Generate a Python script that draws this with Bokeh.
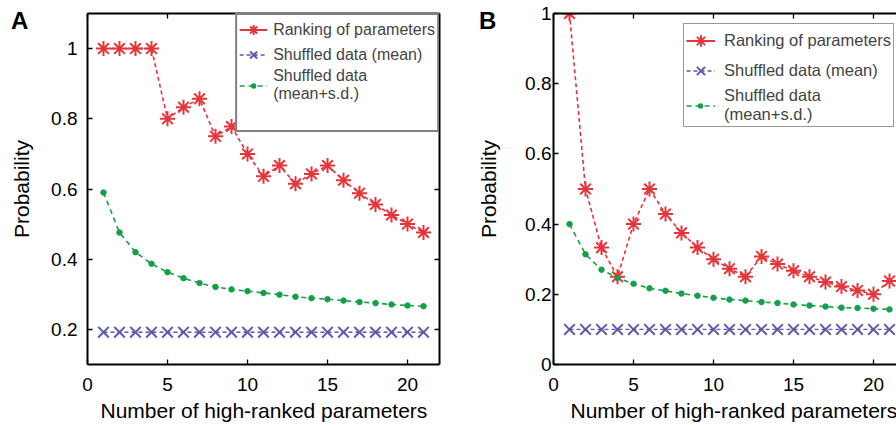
from bokeh.plotting import figure
from bokeh.models import (LinearAxis, FixedTicker, Legend, LegendItem, Title, Div,
                          ColumnDataSource, Range1d)
from bokeh.layouts import row
from bokeh.embed import file_html
from bokeh.resources import INLINE

# ---------------- data ----------------
n_params = [1, 2, 3, 4, 5, 6, 7, 8, 9, 10, 11, 12, 13, 14, 15, 16, 17, 18, 19, 20, 21]

a_ranking = [1.0, 1.0, 1.0, 1.0, 0.8, 0.833, 0.857, 0.75, 0.778, 0.7, 0.636,
             0.667, 0.615, 0.643, 0.667, 0.625, 0.588, 0.556, 0.526, 0.5, 0.476]
a_shuffled_mean = [0.192] * 21
a_shuffled_sd = [0.59, 0.476, 0.42, 0.387, 0.363, 0.346, 0.332, 0.321, 0.314, 0.309,
                 0.304, 0.299, 0.293, 0.289, 0.286, 0.282, 0.278, 0.275, 0.271, 0.268, 0.266]

b_ranking = [1.0, 0.5, 0.333, 0.25, 0.4, 0.5, 0.429, 0.375, 0.333, 0.3, 0.273,
             0.25, 0.308, 0.286, 0.267, 0.25, 0.235, 0.222, 0.211, 0.2, 0.238]
b_shuffled_mean = [0.1] * 21
b_shuffled_sd = [0.4, 0.314, 0.27, 0.247, 0.23, 0.217, 0.21, 0.202, 0.196, 0.19,
                 0.185, 0.182, 0.178, 0.175, 0.171, 0.168, 0.165, 0.162, 0.161, 0.159, 0.157]

x_ticks = [0, 5, 10, 15, 20]
a_y_ticks = [0.2, 0.4, 0.6, 0.8, 1.0]
b_y_ticks = [0, 0.2, 0.4, 0.6, 0.8, 1.0]

legend_labels = ["Ranking of parameters", "Shuffled data (mean)", "Shuffled data\n(mean+s.d.)"]
x_label = "Number of high-ranked parameters"
y_label = "Probability"
panel_letters = ["A", "B"]

RED = "#e5353b"
BLUE = "#5a5aa8"
GREEN = "#14a048"
FONT = "Liberation Sans"


def style_axis(ax, ticker, show_labels=True, standoff=10):
    ax.ticker = FixedTicker(ticks=ticker)
    ax.axis_line_width = 2
    ax.axis_line_color = "black"
    ax.major_tick_in = 5
    ax.major_tick_out = 0
    ax.major_tick_line_width = 1.3
    ax.major_tick_line_color = "black"
    ax.minor_tick_line_color = None
    ax.major_label_text_font = FONT
    if show_labels:
        ax.major_label_text_color = "black"
        ax.major_label_text_font_size = "19px"
        ax.major_label_standoff = standoff
    else:
        ax.major_label_text_color = None
        ax.major_label_text_alpha = 0
        ax.major_label_text_font_size = "0px"
        ax.major_label_standoff = 0
    ax.axis_label_text_font = FONT
    ax.axis_label_text_font_size = "21px"
    ax.axis_label_text_font_style = "normal"
    ax.axis_label_text_color = "black"


def make_panel(ranking, smean, ssd, yr, yticks, width, bl, br, xr_end,
               ylab_standoff, tick_standoff, right_axis, xlab_offset, legend_kw):
    p = figure(width=width, height=425, x_range=Range1d(0, xr_end), y_range=Range1d(*yr),
               output_backend="svg", toolbar_location=None,
               min_border_left=bl, min_border_right=br, min_border_top=13,
               min_border_bottom=59)
    p.outline_line_color = None
    p.xgrid.visible = False
    p.ygrid.visible = False
    p.background_fill_color = "white"
    p.border_fill_color = "white"

    xb = p.below[0]
    yl = p.left[0]
    style_axis(xb, x_ticks, standoff=13)
    style_axis(yl, yticks, standoff=tick_standoff)
    yl.major_label_overrides = {1: "1", 0: "0"}
    yl.axis_label = y_label
    yl.axis_label_standoff = ylab_standoff

    top = LinearAxis()
    style_axis(top, x_ticks, show_labels=False)
    p.add_layout(top, "above")
    if right_axis:
        rt = LinearAxis()
        style_axis(rt, yticks, show_labels=False)
        p.add_layout(rt, "right")

    # x axis label as a left-aligned title below the axis
    p.add_layout(Title(text=x_label, align="left", offset=xlab_offset, standoff=7,
                       text_font=FONT, text_font_size="21px", text_font_style="normal",
                       text_color="black"), "below")

    src = ColumnDataSource(dict(x=n_params, r=ranking, m=smean, s=ssd))

    p.line("x", "r", source=src, color=RED, line_width=1.6, line_dash="4 3")
    r_star = p.scatter("x", "r", source=src, marker="asterisk", size=15,
                       line_color=RED, line_width=2)
    b_line = p.line("x", "m", source=src, color=BLUE, line_width=1.4, line_dash="4 3")
    b_mark = p.scatter("x", "m", source=src, marker="x", size=15,
                       line_color=BLUE, line_width=2)
    g_line = p.line("x", "s", source=src, color=GREEN, line_width=1.6, line_dash="5 4")
    p.scatter("x", "s", source=src, marker="circle", size=5.5,
              fill_color=GREEN, line_color=GREEN)

    gw = legend_kw["glyph_width"]
    # hidden legend-only renderers (solid red line; small green dot as in the original legend)
    r_proxy = p.line("x", "r", source=src, color=RED, line_width=2, visible=False)
    g_proxy = p.line("x", "s", source=src, color=GREEN, line_width=5.5, line_cap="round",
                     line_dash="0 100", line_dash_offset=100 - gw // 2, visible=False)

    items = [
        LegendItem(label=legend_labels[0], renderers=[r_proxy, r_star]),
        LegendItem(label=legend_labels[1], renderers=[b_line, b_mark]),
        LegendItem(label=legend_labels[2], renderers=[g_line, g_proxy]),
    ]
    if legend_kw.pop("blank", False):
        blank = p.scatter("x", "s", source=src, marker="circle", size=1,
                          fill_alpha=0, line_alpha=0, visible=False)
        items.append(LegendItem(label=" ", renderers=[blank]))
    leg = Legend(items=items, margin=0, label_text_font=FONT, click_policy="none",
                 inactive_fill_alpha=0, background_fill_alpha=1, **legend_kw)
    p.add_layout(leg)
    return p


pa = make_panel(a_ranking, a_shuffled_mean, a_shuffled_sd,
                (0.1, 1.1), a_y_ticks, 448, 87, 9, 22, 15, 10, True, 13,
                dict(location="top_right", padding=2, spacing=0,
                     glyph_width=28, glyph_height=25, label_standoff=6,
                     border_line_color="black", border_line_width=2,
                     label_text_font_size="16px", blank=True))

pb = make_panel(b_ranking, b_shuffled_mean, b_shuffled_sd,
                (0, 1), b_y_ticks, 448, 105, 0, 343 / 16, 22, 2, False, 17,
                dict(location=(130, 237), padding=2, spacing=1,
                     glyph_width=29, glyph_height=29, label_standoff=9,
                     border_line_color="#333333", border_line_width=1.2,
                     label_text_font_size="16.5px"))


def letter(text, left):
    return Div(text=text, styles={
        "position": "absolute", "left": f"{left}px", "top": "-1px",
        "font-family": FONT, "font-size": "24px", "font-weight": "bold",
        "color": "black", "z-index": "10"})


layout = row(pa, pb, letter(panel_letters[0], 6), letter(panel_letters[1], 474))
open("out.html", "w").write(file_html(layout, INLINE))
